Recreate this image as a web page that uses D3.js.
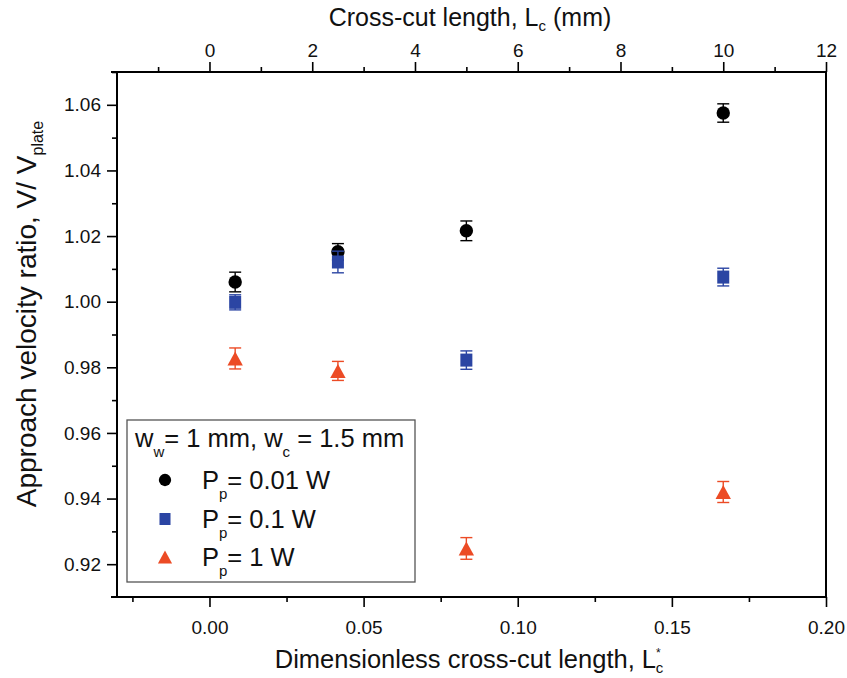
<!DOCTYPE html>
<html><head><meta charset="utf-8">
<script src="https://cdn.jsdelivr.net/npm/d3@7"></script>
<style>
body{margin:0;background:#fff;}
svg{display:block;font-family:"Liberation Sans",Arial,sans-serif;}
</style></head>
<body>
<svg id="c" width="847" height="678"></svg>
<script>
// ---- data ----
const crossCutMm = [0.5, 2.5, 5, 10];           // top axis (mm)
const dimensionless = [0.5/60, 2.5/60, 5/60, 10/60]; // bottom axis L*c
const powerLabels = ["0.01 W", "0.1 W", "1 W"];
const v001 = [1.0060, 1.0152, 1.0216, 1.0575];
const e001 = [0.0030, 0.0025, 0.0030, 0.0028];
const v01  = [0.9998, 1.0121, 0.9822, 1.0075];
const e01  = [0.0023, 0.0033, 0.0028, 0.0027];
const v1   = [0.9827, 0.9789, 0.9248, 0.9420];
const e1   = [0.0032, 0.0029, 0.0033, 0.0032];
const bottomTicks = [0.00, 0.05, 0.10, 0.15, 0.20];
const topTicks = [0, 2, 4, 6, 8, 10, 12];
const yTicks = [0.92, 0.94, 0.96, 0.98, 1.00, 1.02, 1.04, 1.06];

const colors = ["#000000", "#2B45A3", "#EC4B25"];
const shapes = ["circle", "square", "triangle"];

const svg = d3.select("#c");
const L = 117, R = 826, T = 72, B = 597;

const x = d3.scaleLinear().domain([-0.03, 0.20]).range([L, R]);
const xTop = d3.scaleLinear().domain([-0.03*60, 12]).range([L, R]);
const y = d3.scaleLinear().domain([0.91, 1.07]).range([B, T]);

// ---- axes ----
const bottomAxis = d3.axisBottom(x).tickValues(bottomTicks).tickFormat(d3.format(".2f")).tickSize(10).tickPadding(14);
const gB = svg.append("g").attr("transform", `translate(0,${B})`).call(bottomAxis);
const gBm = svg.append("g").attr("transform", `translate(0,${B})`)
  .call(d3.axisBottom(x).tickValues(d3.range(-0.025, 0.2, 0.05)).tickFormat("").tickSize(5));

const topAxis = d3.axisTop(xTop).tickValues(topTicks).tickFormat(d3.format("d")).tickSize(10).tickPadding(5);
const gT = svg.append("g").attr("transform", `translate(0,${T})`).call(topAxis);
const gTm = svg.append("g").attr("transform", `translate(0,${T})`)
  .call(d3.axisTop(xTop).tickValues(d3.range(-1, 12, 2)).tickFormat("").tickSize(5));

const leftAxis = d3.axisLeft(y).tickValues(yTicks).tickFormat(d3.format(".2f")).tickSize(10).tickPadding(6);
const gL = svg.append("g").attr("transform", `translate(${L},0)`).call(leftAxis);
const gLm = svg.append("g").attr("transform", `translate(${L},0)`)
  .call(d3.axisLeft(y).tickValues(d3.range(0.93, 1.07, 0.02)).tickFormat("").tickSize(5));

[gB, gBm, gT, gTm, gL, gLm].forEach(g => {
  g.select(".domain").remove();
  g.selectAll(".tick line").attr("stroke", "#000").attr("stroke-width", 1.6);
  g.selectAll(".tick text").attr("fill", "#111").style("font-size", "19px")
    .style("font-family", "'Liberation Sans', Arial, sans-serif");
});

// frame lines
const frame = svg.append("g").attr("stroke", "#000").attr("stroke-width", 2).attr("fill", "none");
frame.append("line").attr("x1", 111).attr("x2", R + 1).attr("y1", T).attr("y2", T);
frame.append("line").attr("x1", 111).attr("x2", R + 1).attr("y1", B).attr("y2", B);
frame.append("line").attr("x1", L).attr("x2", L).attr("y1", T).attr("y2", B);
frame.append("line").attr("x1", R).attr("x2", R).attr("y1", T).attr("y2", B);

// ---- axis titles ----
const tTop = svg.append("text").attr("x", 470).attr("y", 26).attr("text-anchor", "middle")
  .style("font-size", "25px").attr("fill", "#111");
tTop.append("tspan").text("Cross-cut length, L");
tTop.append("tspan").text("c").style("font-size", "15px").attr("dy", 5);
tTop.append("tspan").text(" (mm)").attr("dy", -5);

const tBot = svg.append("text").attr("x", 469).attr("y", 668).attr("text-anchor", "middle")
  .style("font-size", "25.5px").attr("fill", "#111");
tBot.append("tspan").text("Dimensionless cross-cut length, L");
tBot.append("tspan").text("*").style("font-size", "12px").attr("dy", -11);
tBot.append("tspan").text("c").style("font-size", "15px").attr("dx", -5).attr("dy", 16);

const tLeft = svg.append("text").attr("transform", "translate(36,314) rotate(-90)").attr("text-anchor", "middle")
  .style("font-size", "28px").attr("fill", "#111");
tLeft.append("tspan").text("Approach velocity ratio, V/ V");
tLeft.append("tspan").text("plate").style("font-size", "16px").attr("dy", 7);

// ---- markers ----
function symbolPath(shape) {
  if (shape === "circle") return "M6.7,0A6.7,6.7 0 1,1 -6.7,0A6.7,6.7 0 1,1 6.7,0Z";
  if (shape === "square") return "M-6,-6.5H6V6.5H-6Z";
  return "M0,-7L7.7,7H-7.7Z";
}
const allVals = [v001, v01, v1];
const allErr = [e001, e01, e1];

allVals.forEach((vals, si) => {
  const g = svg.append("g");
  const pts = vals.map((v, i) => ({x: dimensionless[i], v, e: allErr[si][i]}));
  const eb = g.selectAll(".eb").data(pts).enter().append("g")
    .attr("stroke", colors[si]).attr("stroke-width", 1.4);
  eb.append("line").attr("x1", d => x(d.x)).attr("x2", d => x(d.x))
    .attr("y1", d => y(d.v + d.e)).attr("y2", d => y(d.v - d.e));
  eb.append("line").attr("x1", d => x(d.x) - 6).attr("x2", d => x(d.x) + 6)
    .attr("y1", d => y(d.v + d.e)).attr("y2", d => y(d.v + d.e));
  eb.append("line").attr("x1", d => x(d.x) - 6).attr("x2", d => x(d.x) + 6)
    .attr("y1", d => y(d.v - d.e)).attr("y2", d => y(d.v - d.e));
  g.selectAll(".m").data(pts).enter().append("path")
    .attr("d", symbolPath(shapes[si]))
    .attr("transform", d => `translate(${x(d.x)},${y(d.v)})`)
    .attr("fill", colors[si]);
});

// ---- legend ----
const lg = svg.append("g");
lg.append("rect").attr("x", 127).attr("y", 420).attr("width", 288).attr("height", 162)
  .attr("fill", "#fff").attr("stroke", "#555").attr("stroke-width", 1.3);
const lt = lg.append("text").attr("x", 135).attr("y", 447).style("font-size", "25.5px").attr("fill", "#111");
lt.append("tspan").text("w");
lt.append("tspan").text("w").style("font-size", "15px").attr("dy", 10);
lt.append("tspan").text("= 1 mm, w").attr("dy", -10);
lt.append("tspan").text("c").style("font-size", "15px").attr("dy", 10);
lt.append("tspan").text(" = 1.5 mm").attr("dy", -10);

const rowY = [480, 519, 557];
shapes.forEach((s, i) => {
  lg.append("path").attr("d", symbolPath(s)).attr("fill", colors[i])
    .attr("transform", `translate(165,${rowY[i]}) scale(0.92)`);
  const t = lg.append("text").attr("x", 202).attr("y", rowY[i] + 9).style("font-size", "25.5px").attr("fill", "#111");
  t.append("tspan").text("P");
  t.append("tspan").text("p").style("font-size", "15px").attr("dy", 10);
  t.append("tspan").text("= " + powerLabels[i]).attr("dy", -10);
});
</script>
</body></html>
